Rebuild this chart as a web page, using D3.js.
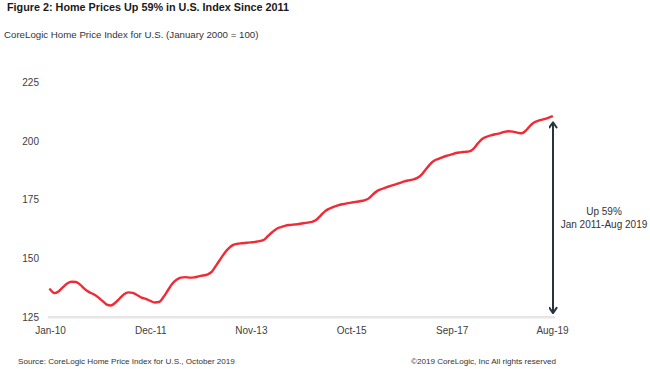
<!DOCTYPE html>
<html>
<head>
<meta charset="utf-8">
<script src="https://cdn.jsdelivr.net/npm/d3@7"></script>
<style>
  body { margin: 0; background: #fff; }
  svg { font-family: Arial, "Liberation Sans", sans-serif; }
</style>
</head>
<body>
<div id="chart"></div>
<script>
// monthly index, Jan 2010 .. Aug 2019
const startMonth = "2010-01";
const hpi = [
  136.9, 135.3, 136.0, 137.8, 139.4, 140.1, 140.0, 138.8, 137.0, 135.7, 134.8, 133.6,
  132.0, 130.4, 130.0, 131.2, 133.0, 134.8, 135.6, 135.4, 134.4, 133.4, 132.8, 132.0,
  131.3, 131.5, 133.5, 136.4, 139.2, 141.0, 141.9, 142.1, 141.9, 142.0, 142.4, 142.8,
  143.2, 144.3, 146.8, 149.6, 152.3, 154.4, 155.8, 156.3, 156.5, 156.7, 156.9, 157.1,
  157.4, 158.0, 159.6, 161.3, 162.7, 163.4, 164.0, 164.3, 164.5, 164.7, 165.0, 165.3,
  165.6, 166.5, 168.2, 170.1, 171.2, 172.0, 172.6, 173.1, 173.5, 173.8, 174.1, 174.4,
  174.8, 175.6, 177.3, 178.8, 179.6, 180.3, 180.9, 181.5, 182.1, 182.7, 183.2, 183.6,
  184.2, 185.6, 187.7, 190.0, 191.6, 192.4, 193.2, 193.8, 194.3, 194.9, 195.2, 195.4,
  195.6, 196.8, 198.9, 200.9, 201.8, 202.4, 202.9, 203.3, 203.9, 204.2, 204.0, 203.6,
  203.3, 204.5, 206.5, 208.0, 208.7, 209.2, 209.8, 210.5
];
const xTicks = ["2010-01", "2011-12", "2013-11", "2015-10", "2017-09", "2019-08"];
const yTicks = [125, 150, 175, 200, 225];
const arrowRange = [208, 126.8];
const annotation = ["Up 59%", "Jan 2011-Aug 2019"];

const width = 650, height = 369;
const parse = d3.timeParse("%Y-%m");
const t0 = parse(startMonth);
const data = hpi.map((v, i) => ({ date: d3.timeMonth.offset(t0, i), value: v }));

const svg = d3.select("#chart").append("svg")
  .attr("width", width)
  .attr("height", height);

const x = d3.scaleTime()
  .domain(d3.extent(data, d => d.date))
  .range([50, 552]);

const y = d3.scaleLinear()
  .domain([125, 225])
  .range([317.3, 82.3]);

// titles
svg.append("text")
  .attr("x", 7).attr("y", 11)
  .style("font-size", "10.8px").style("font-weight", "bold").attr("fill", "#1a1a1a")
  .text("Figure 2: Home Prices Up 59% in U.S. Index Since 2011");

svg.append("text")
  .attr("x", 4).attr("y", 38)
  .style("font-size", "9.7px").attr("fill", "#333")
  .text("CoreLogic Home Price Index for U.S. (January 2000 = 100)");

// y axis labels only
svg.append("g")
  .selectAll("text")
  .data(yTicks)
  .join("text")
  .attr("x", 39)
  .attr("y", d => y(d))
  .attr("dy", "0.35em")
  .attr("text-anchor", "end")
  .style("font-size", "10px")
  .attr("fill", "#404040")
  .text(d => d);

// x axis
const xAxis = d3.axisBottom(x)
  .tickValues(xTicks.map(parse))
  .tickFormat(d3.timeFormat("%b-%y"))
  .tickSize(0)
  .tickPadding(10);

const gx = svg.append("g")
  .attr("transform", `translate(0,${y(125)})`)
  .call(xAxis);
gx.select(".domain").remove();
gx.selectAll("text").style("font-size", "10px").attr("fill", "#404040")
  .style("font-family", "Arial, 'Liberation Sans', sans-serif");

gx.append("line")
  .attr("x1", x.range()[0] - 2).attr("x2", x.range()[1] + 3)
  .attr("y1", 0).attr("y2", 0)
  .attr("stroke", "#e6e6e6").attr("stroke-width", 2.5);

// line
const line = d3.line()
  .x(d => x(d.date))
  .y(d => y(d.value))
  .curve(d3.curveMonotoneX);

svg.append("path")
  .datum(data)
  .attr("fill", "none")
  .attr("stroke", "#ee2b36")
  .attr("stroke-width", 2.4)
  .attr("stroke-linejoin", "round")
  .attr("stroke-linecap", "round")
  .attr("d", line);

// arrow annotation
const defs = svg.append("defs");
defs.append("marker")
  .attr("id", "chev")
  .attr("viewBox", "0 0 10 10")
  .attr("refX", 8.8).attr("refY", 5)
  .attr("markerWidth", 9).attr("markerHeight", 9)
  .attr("markerUnits", "userSpaceOnUse")
  .attr("orient", "auto-start-reverse")
  .append("path")
  .attr("d", "M3,1 L8.8,5 L3,9")
  .attr("fill", "none")
  .attr("stroke", "#27343d")
  .attr("stroke-width", 2.2)
  .attr("stroke-linecap", "round")
  .attr("stroke-linejoin", "round");

const ax = x(data[data.length - 1].date) + 1;
svg.append("line")
  .attr("x1", ax).attr("x2", ax)
  .attr("y1", y(arrowRange[0])).attr("y2", y(arrowRange[1]))
  .attr("stroke", "#27343d")
  .attr("stroke-width", 2)
  .attr("marker-start", "url(#chev)")
  .attr("marker-end", "url(#chev)");

svg.append("g")
  .selectAll("text")
  .data(annotation)
  .join("text")
  .attr("x", 604)
  .attr("y", (d, i) => 215 + i * 12.5)
  .attr("text-anchor", "middle")
  .style("font-size", "10px")
  .attr("fill", "#333")
  .text(d => d);

// footer
svg.append("text")
  .attr("x", 18).attr("y", 364)
  .style("font-size", "8.1px").attr("fill", "#333")
  .text("Source: CoreLogic Home Price Index for U.S., October  2019");

svg.append("text")
  .attr("x", 411).attr("y", 364)
  .style("font-size", "8.1px").attr("fill", "#333")
  .text("©2019  CoreLogic, Inc  All rights reserved");
</script>
</body>
</html>
